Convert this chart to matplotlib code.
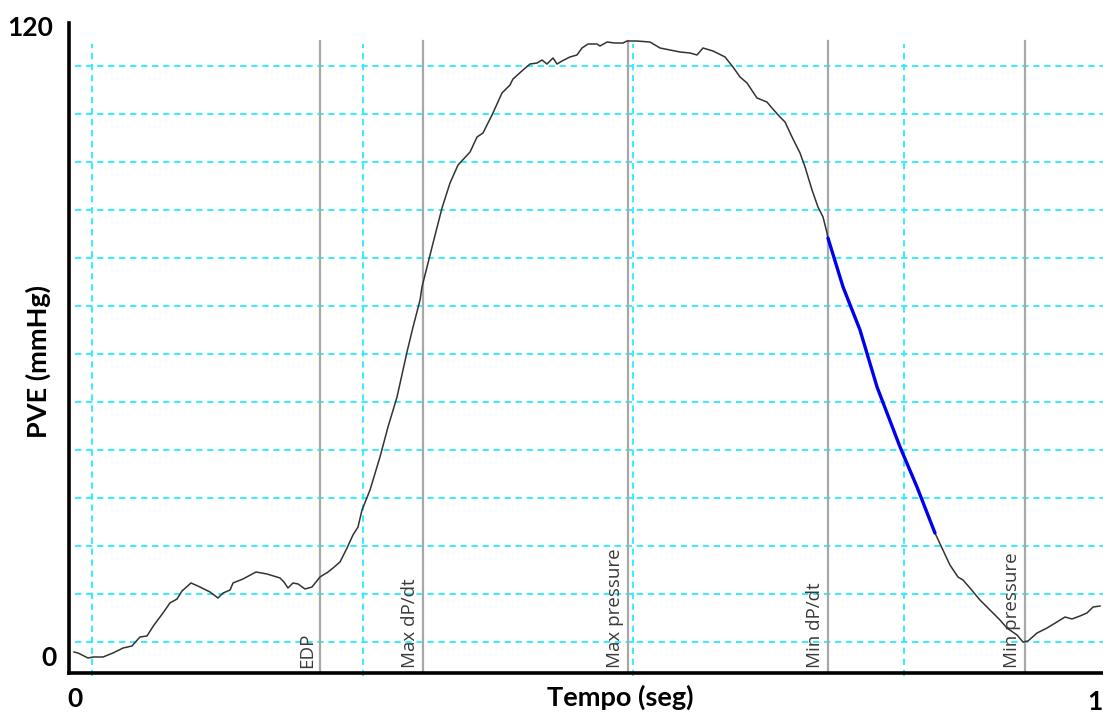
import numpy as np
import matplotlib
matplotlib.use("Agg")
import matplotlib.pyplot as plt
from matplotlib.transforms import blended_transform_factory

# ---- data ----
time = [0.0049, 0.0088, 0.0185, 0.0234, 0.0331, 0.0428, 0.0526, 0.0613, 0.0691, 0.0759,
        0.0828, 0.0915, 0.0983, 0.1052, 0.1100, 0.1188, 0.1276, 0.1373, 0.1451, 0.1500,
        0.1568, 0.1597, 0.1694, 0.1821, 0.1928, 0.2055, 0.2093, 0.2132, 0.2181, 0.2230,
        0.2298, 0.2366, 0.2444, 0.2522, 0.2571, 0.2639, 0.2707, 0.2765, 0.2814, 0.2853,
        0.2931, 0.3028, 0.3106, 0.3194, 0.3291, 0.3350, 0.3418, 0.3437, 0.3535, 0.3632,
        0.3710, 0.3788, 0.3905, 0.3973, 0.4031, 0.4119, 0.4216, 0.4294, 0.4323, 0.4421,
        0.4489, 0.4557, 0.4606, 0.4654, 0.4713, 0.4752, 0.4800, 0.4878, 0.4946, 0.4995,
        0.5054, 0.5141, 0.5170, 0.5239, 0.5316, 0.5394, 0.5433, 0.5531, 0.5657, 0.5755,
        0.5949, 0.6047, 0.6115, 0.6173, 0.6271, 0.6388, 0.6465, 0.6534, 0.6602, 0.6699,
        0.6796, 0.6845, 0.6923, 0.6972, 0.7040, 0.7118, 0.7167, 0.7235, 0.7293, 0.7342,
        0.7381, 0.7390, 0.7537, 0.7702, 0.7868, 0.8092, 0.8257, 0.8432, 0.8500, 0.8578,
        0.8656, 0.8705, 0.8773, 0.8870, 0.8968, 0.9065, 0.9133, 0.9231, 0.9289, 0.9338,
        0.9426, 0.9523, 0.9620, 0.9698, 0.9766, 0.9844, 0.9912, 0.9971, 1.0039]
pressure = [1.14, 0.95, 0.00, 0.19, 0.19, 0.95, 1.90, 2.29, 4.00, 4.19,
            6.29, 8.57, 10.48, 11.24, 12.76, 14.29, 13.52, 12.57, 11.43, 12.38,
            12.95, 14.29, 15.05, 16.38, 16.00, 15.24, 14.48, 13.33, 14.29, 14.10,
            13.14, 13.52, 15.43, 16.38, 17.14, 18.29, 20.95, 23.43, 24.95, 28.19,
            32.00, 38.29, 44.00, 49.71, 58.29, 63.05, 68.19, 70.67, 78.29, 85.71,
            90.48, 93.90, 96.38, 99.24, 100.00, 103.43, 107.62, 109.14, 110.29, 112.00,
            113.14, 113.33, 113.90, 113.14, 114.29, 113.14, 113.71, 114.48, 114.86, 116.19,
            116.95, 116.95, 116.57, 117.33, 117.14, 117.14, 117.52, 117.52, 117.33, 116.19,
            115.43, 115.24, 114.86, 116.19, 115.62, 114.48, 112.57, 110.67, 109.52, 106.67,
            105.90, 104.76, 103.05, 102.10, 99.24, 96.19, 93.52, 89.14, 85.90, 84.00,
            80.95, 80.00, 70.67, 62.48, 51.62, 40.19, 32.57, 23.81, 20.95, 17.71,
            15.43, 14.86, 13.33, 11.05, 9.14, 7.24, 5.71, 4.38, 3.05, 3.24,
            4.76, 5.71, 6.86, 7.81, 7.43, 8.00, 8.57, 9.71, 9.90]

# relaxation fit segment (blue)
fit_start = 0.7390
fit_end = 0.8432

event_names = ["EDP", "Max dP/dt", "Max pressure", "Min dP/dt", "Min pressure"]
event_times = [0.2444, 0.3447, 0.5443, 0.7390, 0.9309]

y_tick_values = [0, 120]
y_tick_labels = ["0", "120"]
x_tick_values = [0, 1]
x_tick_labels = ["0", "1"]

# ---- figure ----
W, H = 1103, 713
fig = plt.figure(figsize=(W / 100, H / 100), dpi=100)
L, R, B, T = 69, 1103, 673, 23
ax = fig.add_axes([L / W, (H - B) / H, (R - L) / W, (B - T) / H])

xlim = (0, (R - L) / 1027.0)
ylim = (-15 / 5.25, 635 / 5.25)
ax.set_xlim(*xlim)
ax.set_ylim(*ylim)

for s in ["top", "right"]:
    ax.spines[s].set_visible(False)
for s in ["left", "bottom"]:
    ax.spines[s].set_linewidth(2.6)
    ax.spines[s].set_color("black")
ax.set_xticks([])
ax.set_yticks([])

cyan = "#22eeff"
# horizontal dashed grid
grid_y = [3.05 + 9.1429 * k for k in range(13)]
for gy in grid_y:
    ax.plot([0.006, xlim[1]], [gy, gy], color=cyan, lw=1.3,
            dashes=(3.5, 2.6), zorder=1)
# vertical dashed grid
grid_x = [0.0224 + 0.2634 * k for k in range(4)]
for gx in grid_x:
    ax.plot([gx, gx], [ylim[0] - 0.6, 116.95], color=cyan, lw=1.3,
            dashes=(3.5, 2.6), zorder=1, clip_on=False)

# event lines + labels
for name, t in zip(event_names, event_times):
    ax.plot([t, t], [ylim[0], 117.52], color="#a8a8a8", lw=1.6, zorder=2)
    ax.annotate(name, xy=(t, 0), xycoords=("data", "axes fraction"),
                xytext=(-4, 5), textcoords="offset pixels", rotation=90,
                ha="right", va="bottom", fontsize=13.5, color="#3a3a3a",
                family=["Open Sans", "DejaVu Sans"])

# pressure curve
tt = np.array(time)
pp = np.array(pressure)
ax.plot(tt, pp, color="#333333", lw=1.1, zorder=3)
m = (tt >= fit_start) & (tt <= fit_end)
ax.plot(tt[m], pp[m], color="#0000ee", lw=2.4, zorder=4, solid_capstyle="round")

# tick labels (manual placement)
lab_font = dict(family=["Lato", "DejaVu Sans"], weight="bold", color="black")
ty = blended_transform_factory(ax.transAxes, ax.transData)
ax.text(-12 / (R - L), y_tick_values[0], y_tick_labels[0], transform=ty,
        ha="right", va="center", fontsize=19, **lab_font)
ax.text(-16 / (R - L), y_tick_values[1], y_tick_labels[1], transform=ty,
        ha="right", va="center", fontsize=19, **lab_font)
tx = blended_transform_factory(ax.transData, fig.transFigure)
ax.text(x_tick_values[0] + 6 / 1027, (H - 699) / H, x_tick_labels[0], transform=tx,
        ha="center", va="center", fontsize=19, **lab_font)
ax.text(x_tick_values[1] - 1 / 1027, (H - 702) / H, x_tick_labels[1], transform=tx,
        ha="center", va="center", fontsize=19, **lab_font)

fig.text(620 / W, (H - 697) / H, "Tempo (seg)", ha="center", va="center",
         fontsize=19.5, **lab_font)
fig.text(38 / W, (H - 362) / H, "PVE (mmHg)", ha="center", va="center",
         rotation=90, fontsize=19.5, **lab_font)

fig.savefig("out.png", dpi=100)
